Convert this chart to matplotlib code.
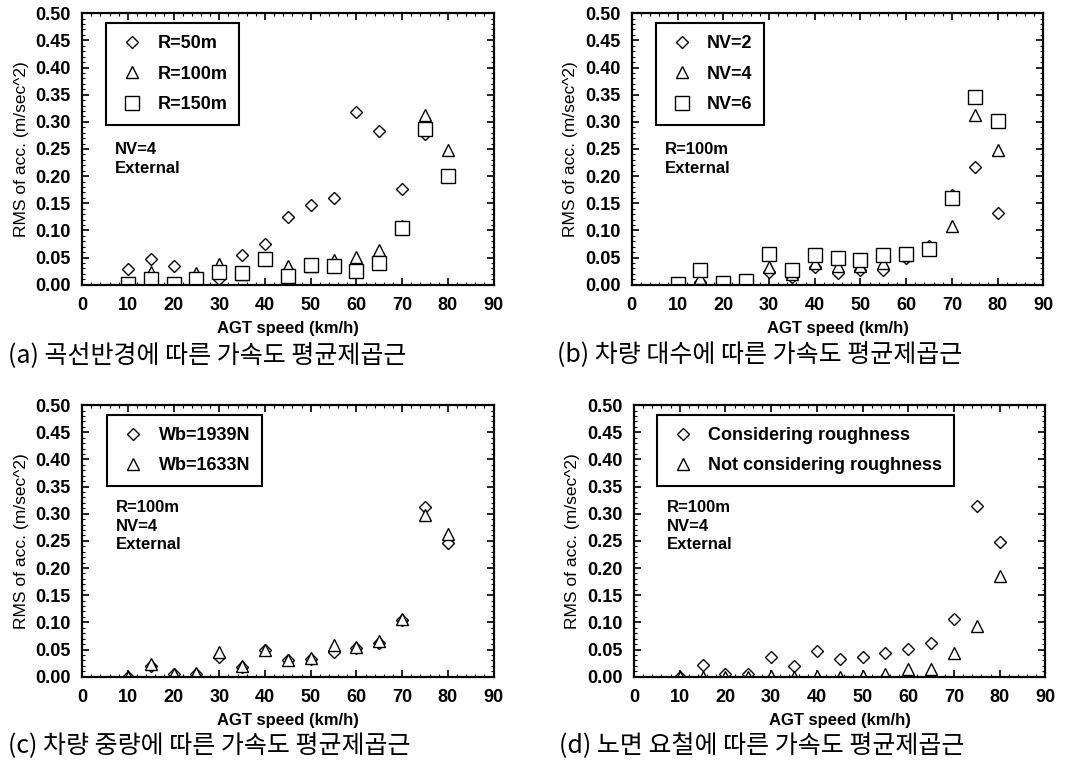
import numpy as np
import matplotlib.pyplot as plt
from matplotlib.ticker import MultipleLocator

plt.rcParams['font.family'] = ['Liberation Sans', 'DejaVu Sans']

speed = [10, 15, 20, 25, 30, 35, 40, 45, 50, 55, 60, 65, 70, 75, 80]

# (a) curve radius
r50 = [0.029, 0.047, 0.034, 0.015, 0.010, 0.055, 0.076, 0.125, 0.146, 0.160, 0.319, 0.283, 0.176, 0.278, 0.200]
r100 = [0.000, 0.024, 0.002, 0.021, 0.038, 0.020, 0.048, 0.034, 0.035, 0.046, 0.052, 0.064, 0.108, 0.313, 0.248]
r150 = [0.002, 0.010, 0.002, 0.010, 0.023, 0.022, 0.047, 0.017, 0.036, 0.035, 0.025, 0.040, 0.105, 0.287, 0.200]

# (b) number of vehicles
nv2 = [0.000, 0.005, 0.005, 0.005, 0.023, 0.015, 0.033, 0.022, 0.028, 0.028, 0.050, 0.072, 0.165, 0.216, 0.133]
nv4 = [0.000, 0.012, 0.005, 0.006, 0.033, 0.020, 0.040, 0.035, 0.035, 0.040, 0.055, 0.068, 0.108, 0.313, 0.248]
nv6 = [0.001, 0.028, 0.004, 0.007, 0.057, 0.027, 0.055, 0.050, 0.045, 0.055, 0.057, 0.065, 0.160, 0.345, 0.302]

# (c) vehicle weight
wb1939 = [0.000, 0.020, 0.004, 0.005, 0.037, 0.018, 0.050, 0.030, 0.033, 0.046, 0.052, 0.062, 0.105, 0.312, 0.247]
wb1633 = [0.000, 0.023, 0.004, 0.006, 0.045, 0.020, 0.050, 0.030, 0.035, 0.058, 0.055, 0.065, 0.107, 0.298, 0.262]

# (d) road roughness
rough = [0.000, 0.022, 0.005, 0.005, 0.036, 0.020, 0.048, 0.032, 0.036, 0.044, 0.051, 0.062, 0.107, 0.314, 0.248]
no_rough = [0.000, 0.000, 0.000, 0.000, 0.002, 0.000, 0.001, 0.000, 0.001, 0.004, 0.015, 0.015, 0.043, 0.094, 0.185]

markers = ['D', '^', 's']
sizes = [6.5, 8.5, 9.5]

panels = [
    ([0.076, 0.633, 0.381, 0.350], [r50, r100, r150], ['R=50m', 'R=100m', 'R=150m'],
     'NV=4\nExternal', (0.08, 0.526), '(a) 곡선반경에 따른 가속도 평균제곱근', 0.058),
    ([0.585, 0.633, 0.381, 0.350], [nv2, nv4, nv6], ['NV=2', 'NV=4', 'NV=6'],
     'R=100m\nExternal', (0.08, 0.526), '(b) 차량 대수에 따른 가속도 평균제곱근', 0.058),
    ([0.076, 0.128, 0.381, 0.350], [wb1939, wb1633], ['Wb=1939N', 'Wb=1633N'],
     'R=100m\nNV=4\nExternal', (0.082, 0.65), '(c) 차량 중량에 따른 가속도 평균제곱근', 0.061),
    ([0.587, 0.128, 0.381, 0.350], [rough, no_rough], ['Considering roughness', 'Not considering roughness'],
     'R=100m\nNV=4\nExternal', (0.08, 0.65), '(d) 노면 요철에 따른 가속도 평균제곱근', 0.056),
]

fig = plt.figure(figsize=(10.8, 7.76), dpi=100)

for rect, series, labels, note, note_xy, caption, leg_x in panels:
    ax = fig.add_axes(rect)
    for i, (vals, lab) in enumerate(zip(series, labels)):
        ax.plot(speed, vals, linestyle='none', marker=markers[i], ms=sizes[i],
                mfc='white', mec='black', mew=1.0, label=lab)
    ax.set_xlim(0, 90)
    ax.set_ylim(0, 0.5)
    ax.xaxis.set_major_locator(MultipleLocator(10))
    ax.xaxis.set_minor_locator(MultipleLocator(2))
    ax.yaxis.set_major_locator(MultipleLocator(0.05))
    ax.yaxis.set_minor_locator(MultipleLocator(0.01))
    ax.set_yticklabels(['%.2f' % v for v in ax.get_yticks()])
    ax.tick_params(which='both', direction='in', top=True, right=True)
    ax.tick_params(which='major', length=5, width=1.2, labelsize=13)
    ax.tick_params(axis='x', which='major', pad=9)
    ax.tick_params(axis='y', which='major', pad=8)
    ax.tick_params(which='minor', length=2.5, width=0.8)
    for lbl in ax.get_xticklabels() + ax.get_yticklabels():
        lbl.set_fontweight('bold')
    for sp in ax.spines.values():
        sp.set_linewidth(1.6)
    ax.set_xlabel('AGT speed (km/h)', fontsize=12, fontweight='bold', labelpad=5)
    ax.set_ylabel('RMS of acc. (m/sec^2)', fontsize=12.5, labelpad=5)
    leg = ax.legend(loc='upper left', bbox_to_anchor=(leg_x, 0.963), fancybox=False,
                    edgecolor='black', framealpha=1, labelspacing=0.75, borderaxespad=0,
                    handletextpad=0.6, borderpad=0.65, handlelength=1.6,
                    prop={'weight': 'bold', 'size': 13})
    leg.get_frame().set_linewidth(1.5)
    ax.text(note_xy[0], note_xy[1], note, transform=ax.transAxes, fontsize=12, fontweight='bold',
            va='top', ha='left', linespacing=1.3)
    fig.text(rect[0] - 0.069, rect[1] - 0.09, caption, fontsize=18,
             family=['Noto Sans CJK KR', 'DejaVu Sans'], ha='left', va='center')

fig.savefig('out.png', dpi=100)
